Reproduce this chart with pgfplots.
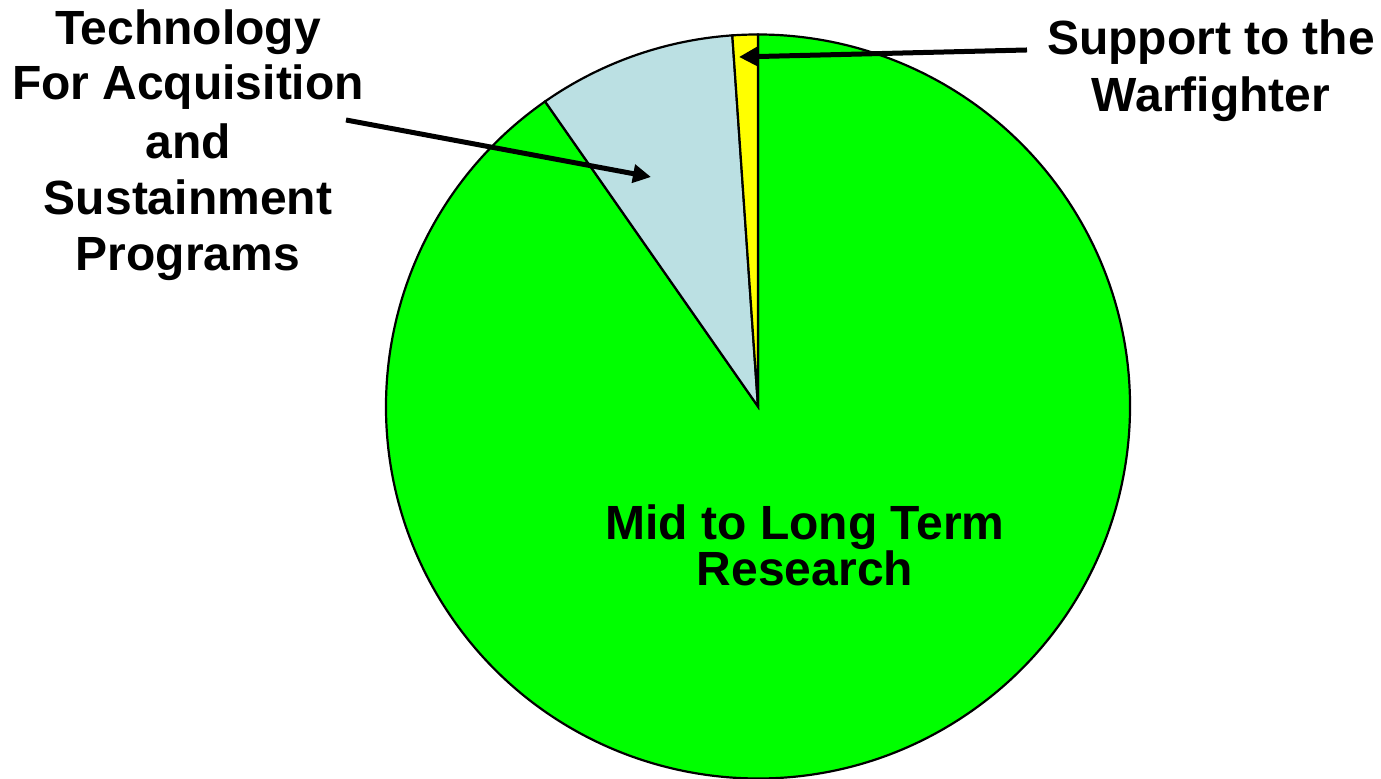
\documentclass[border=0pt]{standalone}
\usepackage{pgfplots}
\pgfplotsset{compat=1.18}
\usepackage{pgfplotstable}
\usepackage{fontspec}
\setmainfont{Liberation Sans}
\usetikzlibrary{arrows.meta}
\definecolor{pieGreen}{RGB}{0,255,0}
\definecolor{pieBlue}{RGB}{187,224,227}
\definecolor{pieYellow}{RGB}{255,255,0}
% shares (percent), counter-clockwise from 12 o'clock
\pgfplotstableread{
label share
Support 1.1
Technology 8.6
MidLong 90.3
}\piedata
\pgfplotstablegetelem{0}{share}\of\piedata \let\sA\pgfplotsretval
\pgfplotstablegetelem{1}{share}\of\piedata \let\sB\pgfplotsretval
\pgfplotstablegetelem{2}{share}\of\piedata \let\sC\pgfplotsretval
\pgfmathsetmacro{\aA}{90}
\pgfmathsetmacro{\aB}{\aA+3.6*\sA}
\pgfmathsetmacro{\aC}{\aB+3.6*\sB}
\pgfmathsetmacro{\aD}{\aC+3.6*\sC}
\begin{document}
\begin{tikzpicture}
\begin{axis}[
  at={(0,0)}, anchor=south west,
  scale only axis, width=690.5pt, height=389.5pt,
  xmin=0, xmax=1381, ymin=0, ymax=779,
  hide axis, clip=false,
]
\def\R{186pt}
\filldraw[overlay, fill=pieGreen, draw=black, line width=1.1pt] (axis cs:758,372.5) -- +(\aC:\R) arc[start angle=\aC, end angle=\aD, radius=\R] -- cycle;
\filldraw[overlay, fill=pieBlue, draw=black, line width=1.1pt] (axis cs:758,372.5) -- +(\aB:\R) arc[start angle=\aB, end angle=\aC, radius=\R] -- cycle;
\filldraw[overlay, fill=pieYellow, draw=black, line width=1.1pt] (axis cs:758,372.5) -- +(\aA:\R) arc[start angle=\aA, end angle=\aB, radius=\R] -- cycle;
% arrows
\draw[line width=2.5pt, -{Triangle[length=9pt,width=9pt]}] (axis cs:346,659) -- (axis cs:651,602);
\draw[line width=2.5pt, -{Triangle[length=9pt,width=9pt]}] (axis cs:1027,729) -- (axis cs:739,722);
% labels
\begin{scope}[every node/.style={anchor=base, inner sep=0pt, font=\bfseries\fontsize{24}{28}\selectfont}]
\node at (axis cs:188,734) {Technology};
\node at (axis cs:188,679) {For Acquisition};
\node at (axis cs:188,620) {and};
\node at (axis cs:188,564) {Sustainment};
\node at (axis cs:188,508) {Programs};
\node at (axis cs:1211,724) {Support to the};
\node at (axis cs:1211,667) {Warfighter};
\node at (axis cs:805,239) {Mid to Long Term};
\node at (axis cs:805,193) {Research};
\end{scope}
\end{axis}
\pgfresetboundingbox
\path[use as bounding box] (0,0) rectangle (690.5pt,389.5pt);
\end{tikzpicture}
\end{document}
